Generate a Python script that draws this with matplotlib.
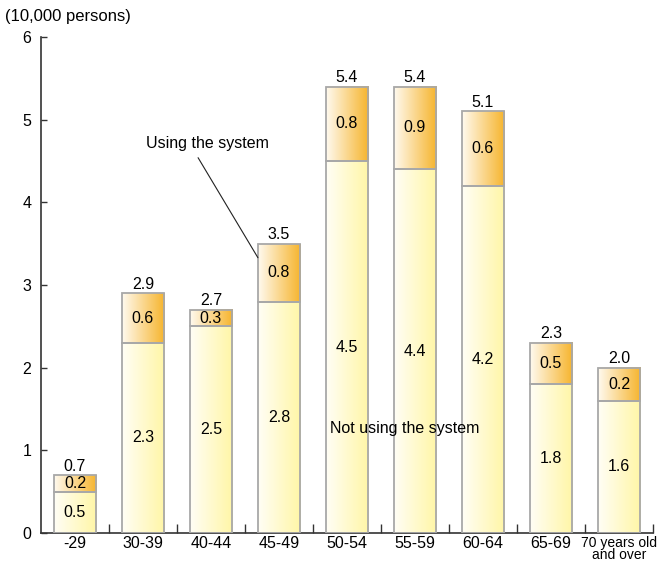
import matplotlib.pyplot as plt
import numpy as np
from matplotlib.colors import LinearSegmentedColormap
from matplotlib.patches import Rectangle

plt.rcParams['font.family'] = ['Liberation Sans', 'DejaVu Sans']

ages = ['-29', '30-39', '40-44', '45-49', '50-54', '55-59', '60-64', '65-69',
        '70 years old\nand over']
not_using = [0.5, 2.3, 2.5, 2.8, 4.5, 4.4, 4.2, 1.8, 1.6]
using = [0.2, 0.6, 0.3, 0.8, 0.8, 0.9, 0.6, 0.5, 0.2]
totals = [0.7, 2.9, 2.7, 3.5, 5.4, 5.4, 5.1, 2.3, 2.0]

pale = LinearSegmentedColormap.from_list('pale', ['#fffef6', '#fff6a6'])
amber = LinearSegmentedColormap.from_list('amber', ['#fffaf0', '#f6b42c'])
grad = np.linspace(0, 1, 256).reshape(1, -1)

fs = 11.5

fig = plt.figure(figsize=(6.68, 5.63), dpi=100)
ax = fig.add_axes([41 / 668, 1 - 533 / 563, 612 / 668, 496 / 563])

w = 0.62
x = np.arange(len(ages))


def seg(xc, y0, y1, cmap):
    ext = [xc - w / 2, xc + w / 2, y0, y1]
    ax.imshow(grad, cmap=cmap, extent=ext, aspect='auto', zorder=2)
    ax.add_patch(Rectangle((ext[0], y0), w, y1 - y0, fill=False,
                           edgecolor='#a8a8a8', lw=1.3, zorder=3))


for i in x:
    seg(i, 0, not_using[i], pale)
    seg(i, not_using[i], totals[i], amber)
    ax.text(i, not_using[i] / 2, f'{not_using[i]:.1f}', ha='center', va='center',
            fontsize=fs, zorder=4)
    ax.text(i, (not_using[i] + totals[i]) / 2, f'{using[i]:.1f}', ha='center',
            va='center', fontsize=fs, zorder=4)
    ax.annotate(f'{totals[i]:.1f}', (i, totals[i]), xytext=(0, 1),
                textcoords='offset points', ha='center', va='bottom', fontsize=fs)

ax.set_xlim(-0.5, len(ages) - 0.5)
ax.set_ylim(0, 6)
ax.set_yticks(range(7))
ax.set_xticks(x)
ax.set_xticklabels(ages, fontsize=fs, linespacing=0.8)
# the two-line label is set smaller so it fits its slot
ax.get_xticklabels()[-1].set_fontsize(10)
ax.set_xticks(x + 0.5, minor=True)
ax.tick_params(axis='x', which='major', length=0, pad=2)
ax.tick_params(axis='x', which='minor', direction='in', length=6.5, width=1,
               color='#333333')
ax.tick_params(axis='y', direction='in', length=4.5, width=1, color='#333333',
               labelsize=fs, pad=7)
for s in ['top', 'right']:
    ax.spines[s].set_visible(False)
for s in ['left', 'bottom']:
    ax.spines[s].set_color('#333333')
    ax.spines[s].set_linewidth(1.2)

# leader from the label down to the "using" segment of 45-49
ax.text(1.95, 4.62, 'Using the system', ha='center', va='bottom', fontsize=fs)
ax.annotate('', xy=(3 - w / 2, 3.33), xytext=(1.81, 4.54),
            arrowprops=dict(arrowstyle='-', color='#222222', lw=0.8,
                            shrinkA=0, shrinkB=0))
ax.text(4.85, 1.26, 'Not using the system', ha='center', va='center',
        fontsize=fs, zorder=5)

fig.text(5 / 668, 1 - 17 / 563, '(10,000 persons)', ha='left', va='center',
         fontsize=fs + 0.5)

fig.savefig('out.png', dpi=100)
